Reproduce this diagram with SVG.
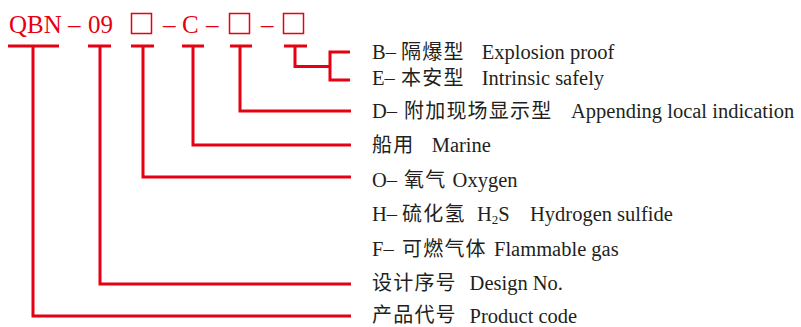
<svg xmlns="http://www.w3.org/2000/svg" width="801" height="327" viewBox="0 0 801 327">
<style>
.code{font-family:"Liberation Serif","Times New Roman",serif;font-size:25px;fill:#e60012}
.box{fill:none;stroke:#e60012;stroke-width:1.5}
.en{font-family:"Liberation Serif","Times New Roman",serif;font-size:20.5px;fill:#231f20}
.cn{font-family:"Noto Sans CJK SC","Noto Sans CJK JP",sans-serif;font-size:20px;letter-spacing:1.2px;fill:#231f20}
.wire{fill:none;stroke:#e60012;stroke-width:3;stroke-linejoin:miter;stroke-linecap:butt}
</style>
<rect width="801" height="327" fill="#ffffff"/>
<g id="code">
<text class="code" x="9" y="32.5">QBN</text>
<text class="code" x="68" y="32.5">–</text>
<text class="code" x="88" y="32.5">09</text>
<rect class="box" x="131.5" y="13.5" width="20" height="20"/>
<text class="code" x="163" y="32.5">–</text>
<text class="code" x="182" y="32.5">C</text>
<text class="code" x="206" y="32.5">–</text>
<rect class="box" x="229.5" y="13.5" width="20" height="20"/>
<text class="code" x="261" y="32.5">–</text>
<rect class="box" x="283.5" y="13.5" width="20" height="20"/>
</g>
<g id="connectors">
<path class="wire" d="M8 46H59M33 46V316H351"/>
<path class="wire" d="M88 46H111M100 46V284H351"/>
<path class="wire" d="M131 46H154M143 46V177H351"/>
<path class="wire" d="M182 46H204M193 46V145H351"/>
<path class="wire" d="M230 46H252M240 46V111H351"/>
<path class="wire" d="M284 46H307M295 46V66.5H330"/>
<path class="wire" d="M350 52H330V80H350"/>
</g>
<g id="label-b">
<text class="en" x="372" y="58.5">B–</text>
<text class="cn" x="401" y="58.5">隔爆型</text>
<text class="en" x="481.7" y="58.5">Explosion proof</text>
</g>
<g id="label-e">
<text class="en" x="372" y="85">E–</text>
<text class="cn" x="401" y="85">本安型</text>
<text class="en" x="481.7" y="85">Intrinsic safely</text>
</g>
<g id="label-d">
<text class="en" x="372" y="118.3">D–</text>
<text class="cn" x="404" y="118.3">附加现场显示型</text>
<text class="en" x="571" y="118.3">Appending local indication</text>
</g>
<g id="label-marine">
<text class="cn" x="372" y="152.3">船用</text>
<text class="en" x="431.7" y="152.3">Marine</text>
</g>
<g id="label-o">
<text class="en" x="372" y="186.5">O–</text>
<text class="cn" x="404" y="186.5">氧气</text>
<text class="en" x="452.6" y="186.5">Oxygen</text>
</g>
<g id="label-h">
<text class="en" x="372" y="221">H–</text>
<text class="cn" x="402" y="221">硫化氢</text>
<text class="en" x="477" y="221">H<tspan font-size="13" dy="3">2</tspan><tspan dy="-3">S</tspan></text>
<text class="en" x="530" y="221">Hydrogen sulfide</text>
</g>
<g id="label-f">
<text class="en" x="372" y="255.5">F–</text>
<text class="cn" x="402" y="255.5">可燃气体</text>
<text class="en" x="494" y="255.5">Flammable gas</text>
</g>
<g id="label-design">
<text class="cn" x="372" y="289.5">设计序号</text>
<text class="en" x="469.6" y="289.5">Design No.</text>
</g>
<g id="label-product">
<text class="cn" x="372" y="322.3">产品代号</text>
<text class="en" x="469.6" y="322.8">Product code</text>
</g>
</svg>
